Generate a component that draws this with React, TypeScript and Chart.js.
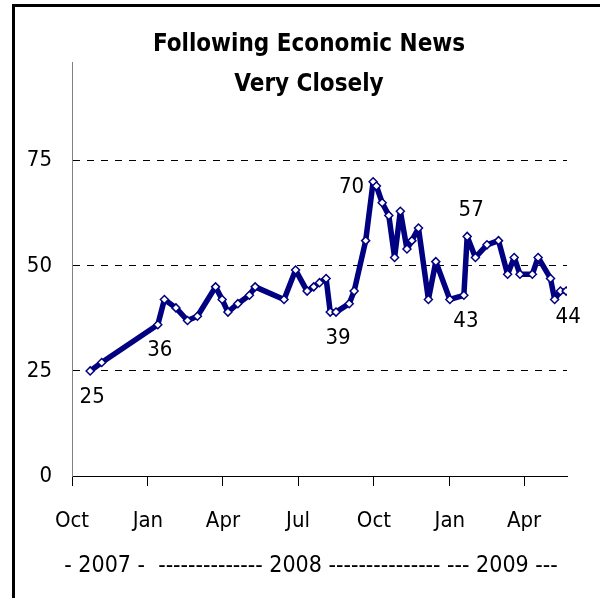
import React, { useEffect, useRef } from 'react';
import { Chart, registerables } from 'chart.js';

Chart.register(...registerables);

const FONT = "'DejaVu Sans Condensed', 'DejaVu Sans', sans-serif";

const titleLines = ['Following Economic News', 'Very Closely'];
const yearLine = '- 2007 -  -------------- 2008 --------------- --- 2009 ---';

const axisStart = '2007-10-01';
const surveyDates = [
  '2007-10-23', '2007-11-06', '2008-01-13', '2008-01-21', '2008-02-04',
  '2008-02-18', '2008-03-01', '2008-03-23', '2008-03-31', '2008-04-07',
  '2008-04-19', '2008-05-03', '2008-05-10', '2008-06-14', '2008-06-28',
  '2008-07-12', '2008-07-20', '2008-07-27', '2008-08-04', '2008-08-09',
  '2008-08-16', '2008-09-01', '2008-09-07', '2008-09-21', '2008-09-30',
  '2008-10-04', '2008-10-11', '2008-10-19', '2008-10-26', '2008-11-02',
  '2008-11-10', '2008-11-16', '2008-11-24', '2008-12-06', '2008-12-15',
  '2009-01-01', '2009-01-18', '2009-01-22', '2009-02-01', '2009-02-15',
  '2009-03-01', '2009-03-12', '2009-03-20', '2009-03-27', '2009-04-11',
  '2009-04-18', '2009-05-03', '2009-05-08', '2009-05-15', '2009-05-22',
];
const closelyPct = [
  25, 27, 36, 42, 40,
  37, 38, 45, 42, 39,
  41, 43, 45, 42, 49,
  44, 45, 46, 47, 39,
  39, 41, 44, 56, 70,
  69, 65, 62, 52, 63,
  54, 56, 59, 42, 51,
  42, 43, 57, 52, 55,
  56, 48, 52, 48, 48,
  52, 47, 42, 44, 44,
];

const quarterDates = ['2007-10-01', '2008-01-01', '2008-04-01', '2008-07-01', '2008-10-01', '2009-01-01', '2009-04-01'];
const quarterLabels = ['Oct', 'Jan', 'Apr', 'Jul', 'Oct', 'Jan', 'Apr'];
const axisEnd = '2009-05-23';
const yTickValues = [0, 25, 50, 75];
const yMax = 98.5;

// indices of points carrying a value label and where the label sits
const labelledIdx = [0, 2, 20, 24, 36, 37, 49];
const labelSide = ['below', 'below', 'below', 'left', 'below', 'above', 'below'];

const dayOf = (d: string) => (Date.parse(d) - Date.parse(axisStart)) / 86400000;

const NAVY = '#000080';

export default function App() {
  const canvasRef = useRef<HTMLCanvasElement | null>(null);

  useEffect(() => {
    const canvas = canvasRef.current;
    if (!canvas) return;

    const points = surveyDates.map((d, i) => ({ x: dayOf(d), y: closelyPct[i] }));
    const quarterX = quarterDates.map(dayOf);

    const textPlugin = {
      id: 'textPlugin',
      afterDraw(chart: any) {
        const ctx = chart.ctx;
        ctx.save();
        ctx.fillStyle = '#000';
        // title
        ctx.font = `bold 24px ${FONT}`;
        ctx.textAlign = 'center';
        ctx.textBaseline = 'middle';
        ctx.fillText(titleLines[0], 309, 45);
        ctx.fillText(titleLines[1], 309, 85);
        // year line
        ctx.font = `23px ${FONT}`;
        ctx.fillText(yearLine, 311, 566);
        // value labels
        ctx.font = `22px ${FONT}`;
        const meta = chart.getDatasetMeta(0);
        labelledIdx.forEach((idx, k) => {
          const el = meta.data[idx];
          const txt = String(closelyPct[idx]);
          const side = labelSide[k];
          if (side === 'below') {
            ctx.textAlign = 'center';
            ctx.fillText(txt, el.x + 2, el.y + 26);
          } else if (side === 'above') {
            ctx.textAlign = 'center';
            ctx.fillText(txt, el.x + 4, el.y - 26);
          } else {
            ctx.textAlign = 'right';
            ctx.fillText(txt, el.x - 9, el.y + 5);
          }
        });
        ctx.restore();
      },
    };

    const chart = new Chart(canvas, {
      type: 'line',
      data: {
        datasets: [
          {
            data: points,
            borderColor: NAVY,
            borderWidth: 5.5,
            borderJoinStyle: 'round',
            borderCapStyle: 'round',
            pointStyle: 'rectRot',
            pointRadius: 4,
            pointBorderWidth: 1.5,
            pointBackgroundColor: '#ffffff',
            pointBorderColor: NAVY,
            tension: 0,
            fill: false,
          } as any,
        ],
      },
      options: {
        animation: false,
        responsive: false,
        maintainAspectRatio: false,
        layout: { padding: { top: 62, right: 33, left: 0, bottom: 0 } },
        plugins: {
          legend: { display: false },
          tooltip: { enabled: false },
          title: { display: false },
        },
        scales: {
          x: {
            type: 'linear',
            min: 0,
            max: dayOf(axisEnd),
            afterFit: (s: any) => {
              s.height = 598 - 476;
            },
            afterBuildTicks: (s: any) => {
              s.ticks = quarterX.map((v) => ({ value: v }));
            },
            ticks: {
              autoSkip: false,
              maxRotation: 0,
              padding: 22,
              color: '#000',
              font: { family: FONT, size: 22 },
              callback: (_v: any, i: number) => quarterLabels[i],
            },
            grid: {
              drawOnChartArea: false,
              drawTicks: true,
              tickLength: 10,
              tickColor: '#000',
              color: '#000',
            },
            border: { display: true, color: '#000', width: 1 },
          },
          y: {
            min: 0,
            max: yMax,
            afterFit: (s: any) => {
              s.width = 72;
            },
            afterBuildTicks: (s: any) => {
              s.ticks = yTickValues.map((v) => ({ value: v }));
            },
            ticks: {
              padding: 20,
              color: '#000',
              font: { family: FONT, size: 22 },
            },
            grid: {
              drawTicks: false,
              lineWidth: 1,
              color: (c: any) => (c.tick && c.tick.value === 0 ? 'rgba(0,0,0,0)' : '#000'),
            },
            border: { display: true, color: '#808080', width: 1, dash: [7, 7] },
          },
        },
      } as any,
      plugins: [textPlugin],
    });

    return () => chart.destroy();
  }, []);

  return (
    <div style={{ position: 'fixed', left: 0, top: 0, width: 600, height: 598, background: '#fff', overflow: 'hidden' }}>
      <div
        style={{
          position: 'absolute',
          left: 12,
          top: 4,
          width: 600,
          height: 600,
          borderLeft: '3px solid #000',
          borderTop: '3px solid #000',
        }}
      />
      <canvas ref={canvasRef} width={600} height={598} style={{ position: 'absolute', left: 0, top: 0 }} />
    </div>
  );
}
